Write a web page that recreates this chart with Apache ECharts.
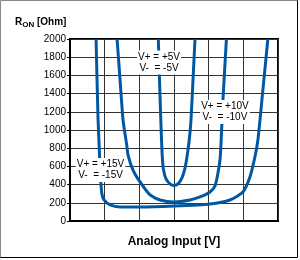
<!DOCTYPE html>
<html>
<head>
<meta charset="utf-8">
<script src="https://cdn.jsdelivr.net/npm/echarts@6/dist/echarts.min.js"></script>
<style>
  html, body { margin: 0; padding: 0; background: #fff; }
  #main { width: 300px; height: 260px; }
</style>
</head>
<body>
<div id="main"></div>
<script>
// on-resistance vs analog input, three supply voltages
const yTicks = [0, 200, 400, 600, 800, 1000, 1200, 1400, 1600, 1800, 2000];

// +-5V
const v5X = [-2.26, -2.09, -1.95, -1.8, -1.66, -1.51, -1.15, -0.58, 0, 0.58, 1.15, 1.59, 1.87, 2.2, 2.45, 2.74, 3.03];
const v5Y = [2000, 1549, 1220, 890, 670, 560, 462, 407, 390, 407, 473, 582, 703, 890, 1110, 1549, 2000];

// +-10V
const v10X = [-8.21, -7.78, -7.35, -6.82, -6.63, -5.91, -4.9, -3.46, -2.02, 0, 2.31, 3.75, 5.19, 5.91, 6.34, 6.63, 6.77, 7.06, 7.56];
const v10Y = [2000, 1549, 1110, 835, 725, 560, 429, 286, 231, 209, 231, 264, 319, 385, 527, 670, 835, 1330, 2000];

// +-15V
const v15X = [-11.24, -11.1, -10.95, -10.8, -10.66, -10.42, -10.09, -9.22, -7.78, -4.9, 0, 5.19, 8.07, 9.94, 10.95, 11.67, 12.1, 12.82, 13.54];
const v15Y = [2000, 1549, 1110, 835, 560, 308, 231, 176, 154, 154, 165, 187, 231, 319, 484, 703, 890, 1440, 2000];

const labels = [
  { text: 'V+ = +5V\nV-  = -5V', x: -2.16, y: 1742 },
  { text: 'V+ = +10V\nV-  = -10V', x: 7.35, y: 1198 },
  { text: 'V+ = +15V\nV-  = -15V', x: -10.6, y: 560 }
];

const blue = '#0057a3';
const font = 'Liberation Sans, Arial, sans-serif';

function pairs(xs, ys) {
  return xs.map((x, i) => [x, ys[i]]);
}

const chart = echarts.init(document.getElementById('main'));

const series = [[v5X, v5Y], [v10X, v10Y], [v15X, v15Y]].map(function (s) {
  return {
    type: 'line',
    data: pairs(s[0], s[1]),
    smooth: 0.2,
    showSymbol: false,
    lineStyle: { color: blue, width: 3 },
    z: 3
  };
});

// text boxes on top of the curves
series.push({
  type: 'scatter',
  data: [],
  markPoint: {
    z: 10,
    symbol: 'circle',
    symbolSize: 1,
    itemStyle: { color: 'rgba(0,0,0,0)' },
    data: labels.map(function (l) {
      return {
        coord: [l.x, l.y],
        label: {
          show: true,
          position: 'inside',
          formatter: l.text,
          color: '#000',
          fontSize: 10,
          fontFamily: font,
          lineHeight: 11,
          align: 'center',
          backgroundColor: '#fff',
          padding: [1, 1, 1, 1]
        }
      };
    })
  }
});

const option = {
  animation: false,
  grid: {
    left: 70, right: 22, top: 39, bottom: 39,
    show: true, borderColor: '#000', borderWidth: 2
  },
  title: {
    text: '{a|R}{b|ON}{a| [Ohm]}',
    left: 10,
    top: 11,
    textStyle: {
      rich: {
        a: { fontSize: 10, fontWeight: 'bold', fontFamily: font, color: '#000' },
        b: { fontSize: 8, fontWeight: 'bold', fontFamily: font, color: '#000', padding: [5, 0, 0, 0] }
      }
    }
  },
  xAxis: {
    type: 'value',
    min: -15, max: 15, interval: 5,
    name: 'Analog Input [V]',
    nameLocation: 'middle',
    nameGap: 15,
    nameTextStyle: { fontSize: 12, fontWeight: 'bold', fontFamily: font, color: '#000' },
    axisLine: { show: true, onZero: false, lineStyle: { color: '#000', width: 2 } },
    axisTick: { show: false },
    axisLabel: { show: false },
    splitLine: { show: true, lineStyle: { color: '#333', width: 1 } }
  },
  yAxis: {
    type: 'value',
    min: yTicks[0], max: yTicks[yTicks.length - 1], interval: 200,
    axisLine: { show: true, onZero: false, lineStyle: { color: '#000', width: 2 } },
    axisTick: { show: true, length: 3, lineStyle: { color: '#000' } },
    axisLabel: { fontSize: 10, fontFamily: font, color: '#000', margin: 4, formatter: function (v) { return String(v); } },
    splitLine: { show: true, lineStyle: { color: '#333', width: 1 } }
  },
  graphic: [
    { type: 'polyline', shape: { points: [[0.5, 258], [0.5, 0.5], [298, 0.5]] }, style: { stroke: '#888', lineWidth: 1, fill: null } },
    { type: 'polyline', shape: { points: [[0.5, 257.5], [297.5, 257.5], [297.5, 0.5]] }, style: { stroke: '#000', lineWidth: 1, fill: null } }
  ],
  series: series
};

chart.setOption(option);
</script>
</body>
</html>
